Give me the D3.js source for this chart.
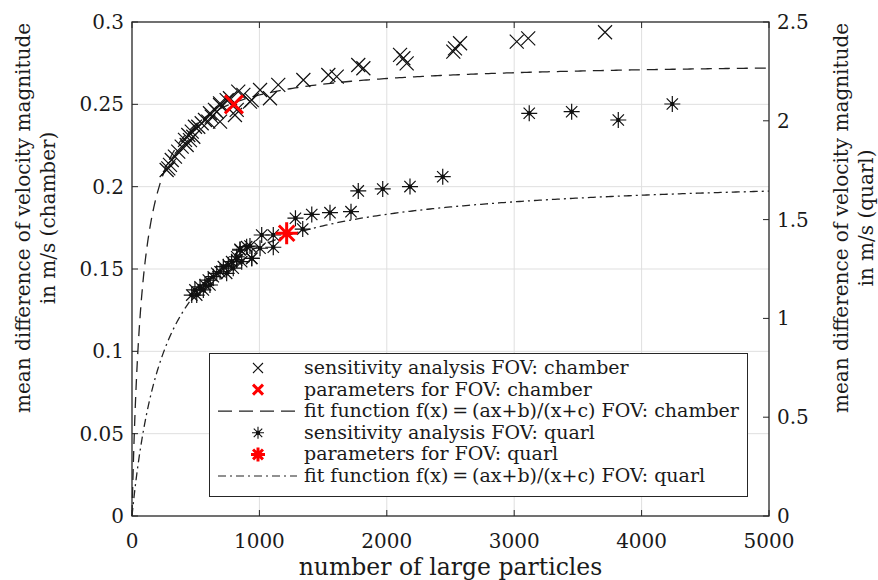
<!DOCTYPE html>
<html><head><meta charset="utf-8">
<script src="https://cdn.jsdelivr.net/npm/d3@7"></script>
<style>body{margin:0;background:#fff}svg{display:block}text{font-family:"DejaVu Serif",serif;fill:#1a1a1a}</style>
</head><body><svg id="c" width="878" height="580"></svg>
<script>
// chamber sensitivity analysis: [number of large particles, m/s (left axis)]
const chamberX = [272,285,298,312,337,363,390,416,429,442,455,469,481,494,520,547,573,599,612,626,651,665,691,691,691,743,769,808,822,834,874,926,940,1005,1083,1148,1345,1541,1607,1776,1816,2104,2130,2156,2522,2535,2575,3020,3110,3713];
const chamberY = [0.2101,0.2111,0.2132,0.2162,0.2182,0.2213,0.2243,0.2284,0.2253,0.2314,0.2283,0.2334,0.2303,0.2364,0.2364,0.2385,0.2405,0.2395,0.2446,0.2425,0.2466,0.2455,0.2506,0.2496,0.2395,0.2526,0.2537,0.2435,0.2466,0.2577,0.2557,0.2516,0.2526,0.2587,0.2537,0.2618,0.2648,0.2678,0.2668,0.2739,0.2719,0.2800,0.2780,0.2749,0.2820,0.2840,0.2871,0.2881,0.2901,0.2938];
const chamberParamX = [800];
const chamberParamY = [0.2500];
// quarl sensitivity analysis: [number of large particles, m/s (right axis)]
const quarlX = [469,494,508,534,560,573,599,612,638,665,691,717,743,756,782,795,822,822,848,848,861,900,926,940,940,1005,1018,1109,1109,1283,1340,1411,1554,1719,1776,1968,2182,2439,3118,3451,3817,4241];
const quarlY = [1.118,1.144,1.118,1.160,1.144,1.169,1.194,1.169,1.211,1.228,1.236,1.262,1.228,1.270,1.287,1.254,1.312,1.296,1.346,1.350,1.287,1.363,1.366,1.304,1.304,1.355,1.422,1.422,1.360,1.507,1.452,1.526,1.535,1.540,1.645,1.655,1.667,1.717,2.038,2.046,2.004,2.085];
const quarlParamX = [1214];
const quarlParamY = [1.431];
// fit parameters f(x)=(a*x+b)/(x+c)
const fitChamber = {a:0.2765, b:0, c:81.4};
const fitQuarl = {a:1.733, b:0, c:270};
const xTicks = [0,1000,2000,3000,4000,5000];
const yLeftTicks = [0,0.05,0.1,0.15,0.2,0.25,0.3];
const yRightTicks = [0,0.5,1,1.5,2,2.5];
const legendLabels = ["sensitivity analysis FOV: chamber","parameters for FOV: chamber","fit function f(x)\u2009=\u2009(ax+b)/(x+c) FOV: chamber","sensitivity analysis FOV: quarl","parameters for FOV: quarl","fit function f(x)\u2009=\u2009(ax+b)/(x+c) FOV: quarl"];

const svg = d3.select("#c");
const L=132,R=769,T=22,B=516;
const x = d3.scaleLinear().domain([0,5000]).range([L,R]);
const yL = d3.scaleLinear().domain([0,0.3]).range([B,T]);
const yR = d3.scaleLinear().domain([0,2.5]).range([B,T]);
const fmt = d=>String(+d.toFixed(3));

// grid
const g = svg.append("g");
g.selectAll(".gx").data(xTicks.slice(1,-1)).join("line").attr("x1",d=>x(d)).attr("x2",d=>x(d)).attr("y1",T).attr("y2",B).attr("stroke","#dfdfdf").attr("stroke-width",1);
g.selectAll(".gy").data(yLeftTicks.slice(1,-1)).join("line").attr("x1",L).attr("x2",R).attr("y1",d=>yL(d)).attr("y2",d=>yL(d)).attr("stroke","#dfdfdf").attr("stroke-width",1);

// fit curves
const samp = d3.range(0,20,0.5).concat(d3.range(20,200,2)).concat(d3.range(200,5001,20));
const fitLine = (p,ys)=>d3.line().x(d=>x(d)).y(d=>ys((p.a*d+p.b)/(d+p.c)));
svg.append("path").attr("d",fitLine(fitChamber,yL)(samp)).attr("fill","none").attr("stroke","#222").attr("stroke-width",1.3).attr("stroke-dasharray","11,7");
svg.append("path").attr("d",fitLine(fitQuarl,yR)(samp)).attr("fill","none").attr("stroke","#222").attr("stroke-width",1.3).attr("stroke-dasharray","8,4,2,4");

// markers
function cross(sel,cx,cy,s,col,w){
  sel.append("path").attr("d",`M${cx-s},${cy-s}L${cx+s},${cy+s}M${cx-s},${cy+s}L${cx+s},${cy-s}`).attr("stroke",col).attr("stroke-width",w).attr("fill","none");
}
function star(sel,cx,cy,s,col,w,dot){
  const d=s*0.707;
  sel.append("path").attr("d",`M${cx-s},${cy}L${cx+s},${cy}M${cx},${cy-s}L${cx},${cy+s}M${cx-d},${cy-d}L${cx+d},${cy+d}M${cx-d},${cy+d}L${cx+d},${cy-d}`).attr("stroke",col).attr("stroke-width",w).attr("fill","none");
  if(dot) sel.append("rect").attr("x",cx-2).attr("y",cy-2).attr("width",4).attr("height",4).attr("fill",col);
}
const m = svg.append("g");
chamberX.forEach((v,i)=>cross(m,x(v),yL(chamberY[i]),7,"#111",1.2));
quarlX.forEach((v,i)=>star(m,x(v),yR(quarlY[i]),8,"#111",1.2,true));
chamberParamX.forEach((v,i)=>cross(m,x(v),yL(chamberParamY[i]),9,"#ff0000",3));
quarlParamX.forEach((v,i)=>star(m,x(v),yR(quarlParamY[i]),11,"#ff0000",3,false));

// axes box
const ax = svg.append("g");
ax.append("rect").attr("x",L).attr("y",T).attr("width",R-L).attr("height",B-T).attr("fill","none").attr("stroke","#262626").attr("stroke-width",1.3);
const tk=6;
xTicks.forEach(t=>{
  ax.append("line").attr("x1",x(t)).attr("x2",x(t)).attr("y1",B).attr("y2",B-tk).attr("stroke","#262626");
  ax.append("line").attr("x1",x(t)).attr("x2",x(t)).attr("y1",T).attr("y2",T+tk).attr("stroke","#262626");
  ax.append("text").attr("x",x(t)).attr("y",548).attr("text-anchor","middle").attr("font-size",20).text(t);
});
yLeftTicks.forEach(t=>{
  ax.append("line").attr("x1",L).attr("x2",L+tk).attr("y1",yL(t)).attr("y2",yL(t)).attr("stroke","#262626");
  ax.append("text").attr("x",124).attr("y",yL(t)+7).attr("text-anchor","end").attr("font-size",20).text(fmt(t));
});
yRightTicks.forEach(t=>{
  ax.append("line").attr("x1",R).attr("x2",R-tk).attr("y1",yR(t)).attr("y2",yR(t)).attr("stroke","#262626");
  ax.append("text").attr("x",777).attr("y",yR(t)+7).attr("text-anchor","start").attr("font-size",20).text(fmt(t));
});
// axis labels
const cy=218;
ax.append("text").attr("transform",`translate(${x(2500)},575)`).attr("text-anchor","middle").attr("font-size",23.5).text("number of large particles");
[["mean difference of velocity magnitude",30],["in m/s (chamber)",55]].forEach(([s,px])=>ax.append("text").attr("transform",`translate(${px},${cy}) rotate(-90)`).attr("text-anchor","middle").attr("font-size",20).text(s));
[["mean difference of velocity magnitude",848],["in m/s (quarl)",873]].forEach(([s,px])=>ax.append("text").attr("transform",`translate(${px},${cy}) rotate(-90)`).attr("text-anchor","middle").attr("font-size",20).text(s));

// legend
const lg = svg.append("g");
lg.append("rect").attr("x",209.5).attr("y",353.5).attr("width",538).attr("height",143).attr("fill","#fff").attr("stroke","#262626").attr("stroke-width",1);
legendLabels.forEach((s,i)=>{
  const ly = 368+i*21.6;
  lg.append("text").attr("x",304).attr("y",ly+6).attr("font-size",19).text(s);
  if(i===0) cross(lg,258,ly,5,"#111",1.1);
  if(i===1) cross(lg,258,ly,5,"#ff0000",3);
  if(i===2) lg.append("line").attr("x1",218).attr("x2",297).attr("y1",ly).attr("y2",ly).attr("stroke","#222").attr("stroke-width",1.2).attr("stroke-dasharray","14,7");
  if(i===3) star(lg,258,ly,6,"#111",1.1,true);
  if(i===4) star(lg,258,ly,7,"#ff0000",3,false);
  if(i===5) lg.append("line").attr("x1",218).attr("x2",297).attr("y1",ly).attr("y2",ly).attr("stroke","#222").attr("stroke-width",1.2).attr("stroke-dasharray","8,4,2,4");
});
</script></body></html>
